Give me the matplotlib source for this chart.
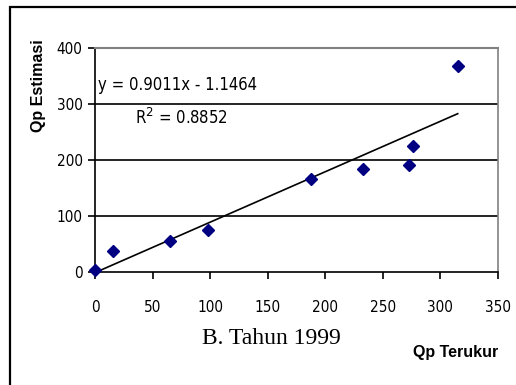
import matplotlib
matplotlib.use("Agg")
import matplotlib.pyplot as plt
import numpy as np
from matplotlib.patches import Rectangle
from matplotlib import font_manager
from matplotlib.font_manager import FontProperties

qp_terukur = [0, 16, 65, 98, 188, 233, 273, 276, 315]
qp_estimasi = [3, 38, 56, 75, 166, 184, 191, 225, 368]
slope = 0.9011
intercept = -1.1464
eq_text = "y = 0.9011x - 1.1464"
r2_text = "R$^2$ = 0.8852"
x_ticks = [0, 50, 100, 150, 200, 250, 300, 350]
y_ticks = [0, 100, 200, 300, 400]
caption = "B. Tahun 1999"
xlabel = "Qp Terukur"
ylabel = "Qp Estimasi"

# look for a condensed sans font (Arial Narrow look-alike)
cond_file = None
for f in font_manager.fontManager.ttflist:
    st = str(f.stretch).lower()
    if ('condensed' in st or 'narrow' in f.name.lower() or 'condensed' in f.fname.lower()) \
            and f.style == 'normal' and f.weight in (400, 'normal', 'regular'):
        if 'Mono' in f.name or 'Serif' in f.name:
            continue
        cond_file = f.fname
        break

if cond_file:
    def nprop(size):
        return FontProperties(fname=cond_file, size=size)
    tick_size, eq_size = 11, 12
else:
    def nprop(size):
        return FontProperties(family='Liberation Sans', size=size)
    tick_size, eq_size = 9.8, 11.6

fig = plt.figure(figsize=(5.16, 3.85), dpi=100)
W, H = 516, 385
ax = fig.add_axes([95 / W, 1 - 272 / H, (498 - 95) / W, (272 - 48) / H])

# outer frame
fig.patches.append(Rectangle((10 / W, -0.1), 1.2, 1 - 7 / H + 0.1, transform=fig.transFigure,
                             fill=False, edgecolor='black', linewidth=1.6, clip_on=False))

for yv in y_ticks[1:-1]:
    ax.axhline(yv, color='black', linewidth=1.2, zorder=1)

xl = np.array([min(qp_terukur), max(qp_terukur)])
ax.plot(xl, slope * xl + intercept, color='black', linewidth=1.2, zorder=2)
ax.plot(qp_terukur, qp_estimasi, linestyle='none', marker='D', markersize=6.2,
        color='#000080', zorder=3, clip_on=False)

ax.set_xlim(0, 350)
ax.set_ylim(0, 400)
ax.set_xticks(x_ticks)
ax.set_yticks(y_ticks)
ax.tick_params(axis='x', direction='out', length=5, width=1.2, pad=15)
ax.tick_params(axis='y', direction='out', length=5, width=1.2, pad=4)
for lab in ax.get_xticklabels() + ax.get_yticklabels():
    lab.set_fontproperties(nprop(tick_size))

ax.spines['left'].set_color('black')
ax.spines['bottom'].set_color('black')
ax.spines['left'].set_linewidth(1.2)
ax.spines['bottom'].set_linewidth(1.2)
ax.spines['top'].set_color('#808080')
ax.spines['right'].set_color('#808080')
ax.spines['top'].set_linewidth(1.5)
ax.spines['right'].set_linewidth(1.2)

ax.text(2.6, 334, eq_text, fontproperties=nprop(eq_size), va='center', ha='left')
ax.text(34.8, 275, r2_text, fontproperties=nprop(eq_size), va='center', ha='left')

fig.text(38 / W, 1 - 86 / H, ylabel, rotation=90, fontsize=11.5, fontweight='bold',
         fontfamily='Liberation Sans', ha='center', va='center')
fig.text(498 / W, 1 - 353 / H, xlabel, fontsize=11.5, fontweight='bold',
         fontfamily='Liberation Sans', ha='right', va='center')
fig.text(271 / W, 1 - 338 / H, caption, fontsize=17, fontfamily='Liberation Serif',
         ha='center', va='center')

fig.savefig("out.png", dpi=100)
